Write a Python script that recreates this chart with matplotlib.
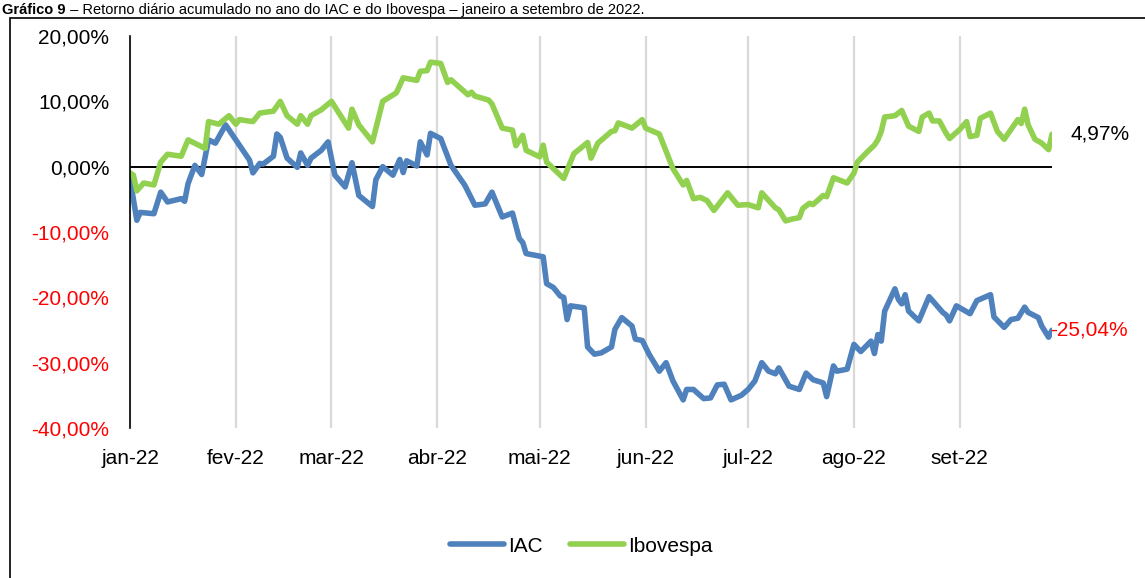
import numpy as np
import pandas as pd
import matplotlib
matplotlib.use("Agg")
import matplotlib.pyplot as plt
from matplotlib.patches import Rectangle

plt.rcParams['font.family'] = ['Liberation Sans', 'DejaVu Sans']

# retorno acumulado (%), eixo x = dia do ano de 2022
ibov_dia = [3, 4, 5, 7, 10, 12, 14, 18, 20, 25, 26, 29, 32, 34, 35, 39, 41, 45, 47, 49,
            52, 53, 55, 56, 59, 62, 67, 68, 70, 74, 77, 81, 83, 87, 88, 90, 91, 94, 96, 97,
            102, 103, 104, 108, 109, 112, 115, 116, 118, 119, 123, 124, 125, 130, 133, 137,
            138, 140, 144, 145, 146, 150, 153, 154, 158, 162, 165, 166, 168, 170, 172, 174,
            178, 181, 184, 187, 188, 192, 193, 195, 197, 199, 200, 202, 203, 206, 207, 209,
            213, 215, 216, 219, 221, 222, 223, 224, 227, 229, 231, 234, 235, 237, 238, 240,
            242, 243, 246, 248, 249, 251, 252, 255, 257, 259, 263, 264, 265, 266, 268, 270,
            272, 273]
ibov_ret = [-0.95, -1.3, -3.7, -2.5, -2.8, 0.7, 1.9, 1.6, 4.1, 2.8, 6.9, 6.5, 7.8, 6.5, 7.2,
            6.9, 8.2, 8.5, 10.0, 7.8, 6.5, 7.8, 6.5, 7.8, 8.7, 10.0, 5.9, 8.8, 6.4, 3.8, 10.0,
            11.3, 13.6, 13.2, 14.6, 14.7, 16.0, 15.8, 12.9, 13.3, 11.0, 11.4, 10.8, 10.2, 9.6,
            5.9, 5.6, 3.2, 4.8, 2.5, 1.5, 3.3, 0.7, -1.8, 2.0, 3.7, 1.3, 3.6, 5.4, 5.5, 6.7,
            5.9, 7.2, 5.9, 5.0, -0.3, -2.8, -2.1, -4.9, -4.7, -5.2, -6.7, -4.0, -5.9, -5.8,
            -6.3, -4.0, -6.3, -6.6, -8.3, -8.0, -7.8, -6.4, -5.6, -5.8, -4.4, -4.6, -1.7,
            -2.5, -1.0, 0.7, 2.3, 3.3, 4.1, 5.4, 7.6, 7.8, 8.6, 6.2, 5.4, 7.6, 8.2, 7.0, 7.0,
            5.1, 4.3, 5.7, 6.9, 4.6, 4.8, 7.4, 8.2, 5.4, 4.2, 7.2, 6.6, 8.8, 6.4, 4.2, 3.6,
            2.6, 4.97]

iac_dia = [3, 5, 6, 10, 12, 14, 18, 19, 20, 22, 24, 26, 28, 31, 35, 38, 39, 41, 42, 45,
           46, 47, 49, 52, 53, 55, 56, 59, 61, 63, 66, 68, 70, 74, 75, 77, 80, 82, 83, 84,
           87, 88, 90, 91, 94, 97, 101, 104, 107, 109, 112, 115, 117, 118, 119, 122, 124,
           125, 127, 129, 130, 131, 132, 136, 137, 139, 141, 144, 145, 147, 150, 151, 153,
           155, 158, 160, 162, 165, 166, 168, 171, 173, 175, 177, 179, 182, 184, 186, 188,
           190, 192, 193, 196, 199, 201, 203, 206, 207, 209, 210, 213, 215, 217, 220, 221,
           222, 223, 224, 227, 228, 229, 230, 231, 234, 237, 241, 242, 243, 245, 249, 251,
           255, 256, 259, 261, 263, 265, 266, 269, 270, 272, 273]
iac_ret = [-1.8, -8.2, -7.0, -7.2, -3.9, -5.4, -4.9, -5.3, -2.6, 0.2, -1.2, 4.1, 3.6, 6.4,
           3.3, 1.0, -0.95, 0.5, 0.4, 1.6, 5.0, 4.5, 1.3, -0.1, 2.1, 0.2, 1.3, 2.5, 3.8, -1.3,
           -3.1, 0.6, -4.4, -6.1, -2.0, 0.0, -1.3, 1.1, -0.9, 0.9, 0.1, 3.8, 1.8, 5.1, 4.3,
           0.2, -2.8, -5.9, -5.7, -3.9, -7.7, -7.1, -11.0, -11.6, -13.3, -13.6, -13.8, -17.9,
           -18.5, -19.8, -20.0, -23.4, -21.3, -21.6, -27.6, -28.7, -28.5, -27.6, -24.9,
           -23.1, -24.4, -26.4, -26.6, -28.7, -31.3, -30.0, -32.8, -35.7, -34.1, -34.1,
           -35.5, -35.4, -33.4, -33.3, -35.7, -35.0, -34.1, -32.8, -30.0, -31.3, -31.7,
           -30.8, -33.6, -34.1, -31.6, -32.6, -33.1, -35.2, -30.5, -31.3, -31.0, -27.2,
           -28.3, -26.7, -28.6, -25.7, -26.7, -22.1, -18.7, -20.3, -21.0, -19.6, -22.1,
           -23.6, -19.9, -22.3, -22.7, -23.6, -21.3, -22.5, -20.5, -19.6, -23.0, -24.6,
           -23.4, -23.2, -21.5, -22.3, -23.1, -24.4, -26.1, -25.04]

meses = ['jan-22', 'fev-22', 'mar-22', 'abr-22', 'mai-22', 'jun-22', 'jul-22', 'ago-22', 'set-22']
y_ticks = [-40, -30, -20, -10, 0, 10, 20]

titulo_negrito = 'Gráfico 9'
titulo_resto = ' – Retorno diário acumulado no ano do IAC e do Ibovespa – janeiro a setembro de 2022.'

azul = '#4F81BD'
verde = '#92D050'


def para_data(dias):
    return pd.Timestamp('2022-01-01') + pd.to_timedelta(np.array(dias) - 1, unit='D')


def fmt(v):
    return f'{v:.2f}'.replace('.', ',') + '%'


W, H = 1145, 578
fig = plt.figure(figsize=(W / 100, H / 100), dpi=100)
ax = fig.add_axes([130 / W, 1 - 428 / H, 922 / W, 392 / H])

ax.plot(para_data(iac_dia), iac_ret, color=azul, lw=4.0, label='IAC',
        solid_capstyle='round', solid_joinstyle='round', zorder=3)
ax.plot(para_data(ibov_dia), ibov_ret, color=verde, lw=4.0, label='Ibovespa',
        solid_capstyle='round', solid_joinstyle='round', zorder=3)
ax.axhline(0, color='black', lw=1.4, zorder=2)

inicio = pd.Timestamp('2022-01-03')
fim = pd.Timestamp('2022-09-30')
ax.set_xlim(inicio, fim)
ax.set_ylim(-40, 20)

ticks_x = [pd.Timestamp(2022, m, 3) for m in range(1, 10)]
ax.set_xticks(ticks_x)
ax.set_xticklabels(meses)
ax.set_yticks(y_ticks)
ax.set_yticklabels([fmt(v) for v in y_ticks])
for lab, v in zip(ax.get_yticklabels(), y_ticks):
    lab.set_color('red' if v < 0 else 'black')

ax.tick_params(axis='both', length=0, labelsize=15)
ax.tick_params(axis='x', pad=15)
ax.tick_params(axis='y', pad=15)
ax.grid(axis='x', color='#D9D9D9', lw=1.6, zorder=1)
for s in ['top', 'right', 'bottom']:
    ax.spines[s].set_visible(False)
ax.spines['left'].set_color('black')
ax.spines['left'].set_linewidth(1.2)
ax.spines['left'].set_zorder(4)

# rotulos do ultimo valor
ax.annotate(fmt(ibov_ret[-1]), xy=(para_data([ibov_dia[-1]])[0], ibov_ret[-1]),
            xytext=(13, 0), textcoords='offset points', va='center', ha='left',
            fontsize=15, color='black', annotation_clip=False)
ax.annotate(fmt(iac_ret[-1]), xy=(para_data([iac_dia[-1]])[0], iac_ret[-1]),
            xytext=(-1, 0), textcoords='offset points', va='center', ha='left',
            fontsize=15, color='red', annotation_clip=False)

ax.legend(loc='center', bbox_to_anchor=(581 / W, 1 - 546 / H), bbox_transform=fig.transFigure,
          ncol=2, frameon=False, fontsize=15, handlelength=2.6, handletextpad=0.2,
          columnspacing=1.3)

# moldura do grafico
fig.patches.append(Rectangle((10 / W, -0.1), 1.2, 1.1 - 18 / H, transform=fig.transFigure,
                             fill=False, edgecolor='black', lw=1.2))

# titulo acima da moldura
t1 = fig.text(2 / W, 1 - 14 / H, titulo_negrito, fontsize=10.5, fontweight='bold',
              va='baseline')
ax.annotate(titulo_resto, xy=(1, 0), xycoords=t1, va='bottom', ha='left', fontsize=10.5,
            annotation_clip=False)

fig.savefig('out.png', dpi=100)
